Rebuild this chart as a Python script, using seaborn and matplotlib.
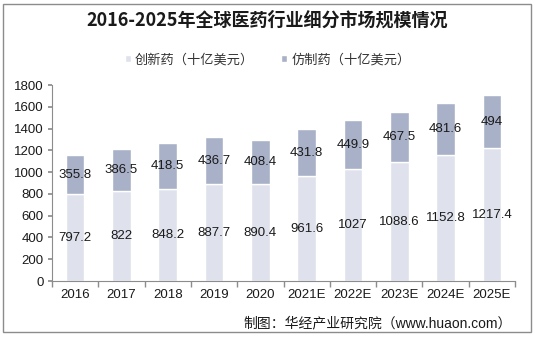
import matplotlib
matplotlib.use("Agg")
import matplotlib.pyplot as plt
from matplotlib.patches import Rectangle
from matplotlib.ticker import FixedLocator
import seaborn as sns
import pandas as pd

# Global pharmaceutical market by segment, billion USD
years = ["2016", "2017", "2018", "2019", "2020", "2021E", "2022E", "2023E", "2024E", "2025E"]
innovative = [797.2, 822, 848.2, 887.7, 890.4, 961.6, 1027, 1088.6, 1152.8, 1217.4]
generic = [355.8, 386.5, 418.5, 436.7, 408.4, 431.8, 449.9, 467.5, 481.6, 494]
innovative_labels = ["797.2", "822", "848.2", "887.7", "890.4", "961.6", "1027", "1088.6", "1152.8", "1217.4"]
generic_labels = ["355.8", "386.5", "418.5", "436.7", "408.4", "431.8", "449.9", "467.5", "481.6", "494"]
series_names = ["创新药（十亿美元）", "仿制药（十亿美元）"]
title = "2016-2025年全球医药行业细分市场规模情况"
source = "制图：华经产业研究院（www.huaon.com）"

sns.set_theme(style="white")
plt.rcParams["font.family"] = ["Liberation Sans", "Noto Sans CJK SC", "DejaVu Sans"]

c_low = "#dfe2ec"
c_high = "#a9b1c8"
text_c = "#1a1a1a"
axis_c = "#8c8c8c"

df = pd.DataFrame({"year": years, "innovative": innovative, "generic": generic})

fig = plt.figure(figsize=(5.35, 3.39), dpi=100)
ax = fig.add_axes([52 / 535, 1 - 281 / 339, (515 - 52) / 535, (281 - 85) / 339])

sns.barplot(data=df, x="year", y="innovative", color=c_low, width=0.4,
            saturation=1, ax=ax, label=series_names[0])
sns.barplot(data=df, x="year", y="generic", color=c_high, width=0.4,
            saturation=1, ax=ax, bottom=df["innovative"].values, label=series_names[1])

ax.bar_label(ax.containers[0], labels=innovative_labels, label_type="center",
             fontsize=9.5, color=text_c)
ax.bar_label(ax.containers[1], labels=generic_labels, label_type="center",
             fontsize=9.5, color=text_c)

ax.set_ylim(0, 1800)
ax.set_xlim(-0.5, len(years) - 0.5)
ax.set_yticks(range(0, 1801, 200))
ax.set_xlabel("")
ax.set_ylabel("")

for s in ["top", "right"]:
    ax.spines[s].set_visible(False)
for s in ["left", "bottom"]:
    ax.spines[s].set_color(axis_c)
    ax.spines[s].set_linewidth(0.8)

ax.tick_params(axis="y", which="major", direction="out", length=3, color=axis_c,
               labelsize=9.5, labelcolor=text_c, pad=3, left=True)
ax.tick_params(axis="x", which="major", length=0, labelsize=9.5, labelcolor=text_c, pad=6)
ax.xaxis.set_minor_locator(FixedLocator([i + 0.5 for i in range(-1, len(years))]))
ax.tick_params(axis="x", which="minor", direction="out", length=4, color=axis_c,
               bottom=True)

leg = ax.legend(loc="center", bbox_to_anchor=(0.5, 1.0 - 60 / 339),
                bbox_transform=fig.transFigure, ncol=2, frameon=False,
                fontsize=9.5, handlelength=0.5, handleheight=0.5,
                handletextpad=0.3, columnspacing=2.0)
for t in leg.get_texts():
    t.set_color("#333333")

fig.text(0.5, 1 - 20 / 339, title, ha="center", va="center", fontsize=13,
         fontweight="bold", color=text_c,
         family=["Noto Sans CJK SC", "DejaVu Sans"])
fig.text(512 / 535, 1 - 323 / 339, source, ha="right", va="center", fontsize=10,
         color=text_c)

fig.patches.append(Rectangle((3 / 535, 7 / 339), 528 / 535, 328 / 339,
                             transform=fig.transFigure, fill=False,
                             edgecolor=axis_c, linewidth=1.0))

fig.savefig("out.png", dpi=100)
